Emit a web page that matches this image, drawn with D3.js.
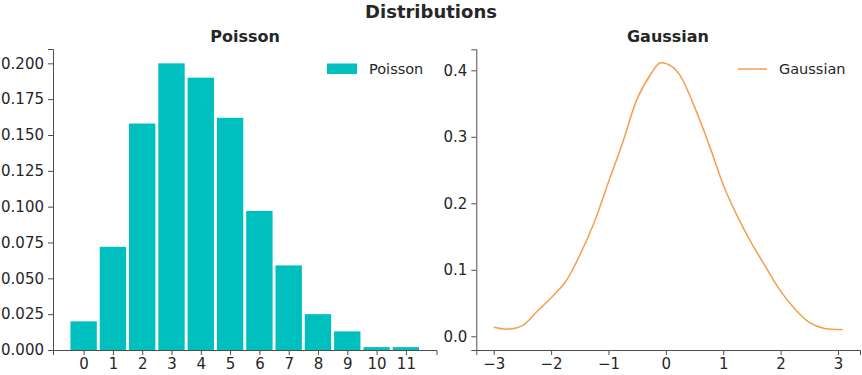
<!DOCTYPE html>
<html>
<head>
<meta charset="utf-8">
<script src="https://cdn.jsdelivr.net/npm/d3@7"></script>
<style>
	body { margin: 0; background: #fff; }
	svg text { font-family: "DejaVu Sans", sans-serif; }
	.axis path, .axis line { stroke: #4d4d4d; stroke-width: 1; }
	.title { fill: #262626; font-weight: bold; }
	.legendText { fill: #262626; font-size: 14.5px; }
</style>
</head>
<body>
<svg id="svgchart" width="862" height="375"></svg>
<script>
'use strict'

// poisson bars (observed frequencies):
const poissonK = [0, 1, 2, 3, 4, 5, 6, 7, 8, 9, 10, 11]
const poissonFreq = [0.020, 0.072, 0.158, 0.200, 0.190, 0.162, 0.097, 0.059, 0.025, 0.013, 0.002, 0.002]
const poissonTicks = [0.000, 0.025, 0.050, 0.075, 0.100, 0.125, 0.150, 0.175, 0.200]

// gaussian kde curve:
const gaussX = [-3.0, -2.75, -2.5, -2.25, -2.0, -1.75, -1.5, -1.25, -1.0, -0.75, -0.5, -0.25, -0.1, 0.1, 0.25, 0.5, 0.75, 1.0, 1.25, 1.5, 1.75, 2.0, 2.25, 2.5, 2.75, 3.0, 3.08]
const gaussY = [0.0135, 0.0108, 0.016, 0.037, 0.058, 0.082, 0.122, 0.171, 0.232, 0.292, 0.357, 0.396, 0.411, 0.406, 0.392, 0.345, 0.289, 0.228, 0.180, 0.139, 0.103, 0.068, 0.041, 0.021, 0.012, 0.0102, 0.0101]
const gaussXTicks = [-3, -2, -1, 0, 1, 2, 3]
const gaussYTicks = [0.0, 0.1, 0.2, 0.3, 0.4]

const barColor = '#00bfbf'
const lineColor = '#f59e4a'

const svg = d3.select('#svgchart')

// style the tick labels of an axis group (d3 puts its own font on the g):
function styleAxis (g) {
	g.attr('font-family', null).attr('font-size', null)
	g.selectAll('text')
		.style('font-family', '"DejaVu Sans", sans-serif')
		.style('font-size', '15px')
		.style('fill', '#262626')
}

// main title:
svg.append('text').classed('title', true)
	.attr('x', 431).attr('y', 18)
	.attr('text-anchor', 'middle').style('font-size', '18px')
	.text('Distributions')

// ---------- left: Poisson ----------
const xL = d3.scaleLinear().domain([-1.045, 12.045]).range([53, 436.5])
const yL = d3.scaleLinear().domain([0, 0.21]).range([350, 49])
const bandW = xL(0.9) - xL(0)

svg.append('g').selectAll('rect')
	.data(poissonK)
	.enter().append('rect')
	.attr('x', (d) => xL(d - 0.45))
	.attr('width', bandW)
	.attr('y', (d, i) => yL(poissonFreq[i]))
	.attr('height', (d, i) => yL(0) - yL(poissonFreq[i]))
	.attr('fill', barColor)

svg.append('g').classed('axis', true)
	.attr('transform', 'translate(0,' + yL.range()[0] + ')')
	.call(d3.axisBottom(xL).tickValues(poissonK).tickFormat(d3.format('d')).tickSizeOuter(0).tickSize(5).tickPadding(3))
	.call(styleAxis)
svg.append('g').classed('axis', true)
	.attr('transform', 'translate(' + xL.range()[0] + ',0)')
	.call(d3.axisLeft(yL).tickValues(poissonTicks).tickFormat(d3.format('.3f')).tickSizeOuter(0).tickSize(5).tickPadding(4))
	.call(styleAxis)

svg.append('text').classed('title', true)
	.attr('x', 245).attr('y', 42)
	.attr('text-anchor', 'middle').style('font-size', '16px')
	.text('Poisson')

// legend
svg.append('rect').attr('x', 327).attr('y', 63.5).attr('width', 30).attr('height', 10.5).attr('fill', barColor)
svg.append('text').classed('legendText', true).attr('x', 369).attr('y', 74).text('Poisson')

// ---------- right: Gaussian ----------
const xR = d3.scaleLinear().domain([-3.304, 3.384]).range([476.3, 860])
const yR = d3.scaleLinear().domain([-0.0206, 0.4316]).range([350, 49.3])

const line = d3.line()
	.x((d, i) => xR(gaussX[i]))
	.y((d, i) => yR(gaussY[i]))
	.curve(d3.curveCatmullRom)

svg.append('path')
	.datum(gaussY)
	.attr('d', line)
	.attr('fill', 'none')
	.attr('stroke', lineColor)
	.attr('stroke-width', 1.5)

svg.append('g').classed('axis', true)
	.attr('transform', 'translate(0,' + yR.range()[0] + ')')
	.call(d3.axisBottom(xR).tickValues(gaussXTicks).tickFormat(d3.format('d')).tickSizeOuter(0).tickSize(5).tickPadding(3))
	.call(styleAxis)
svg.append('g').classed('axis', true)
	.attr('transform', 'translate(' + xR.range()[0] + ',0)')
	.call(d3.axisLeft(yR).tickValues(gaussYTicks).tickFormat(d3.format('.1f')).tickSizeOuter(0).tickSize(5).tickPadding(4))
	.call(styleAxis)

svg.append('text').classed('title', true)
	.attr('x', 668).attr('y', 42)
	.attr('text-anchor', 'middle').style('font-size', '16px')
	.text('Gaussian')

// legend
svg.append('line').attr('x1', 738).attr('x2', 767).attr('y1', 69).attr('y2', 69)
	.attr('stroke', lineColor).attr('stroke-width', 1.5)
svg.append('text').classed('legendText', true).attr('x', 779).attr('y', 74).text('Gaussian')
</script>
</body>
</html>
